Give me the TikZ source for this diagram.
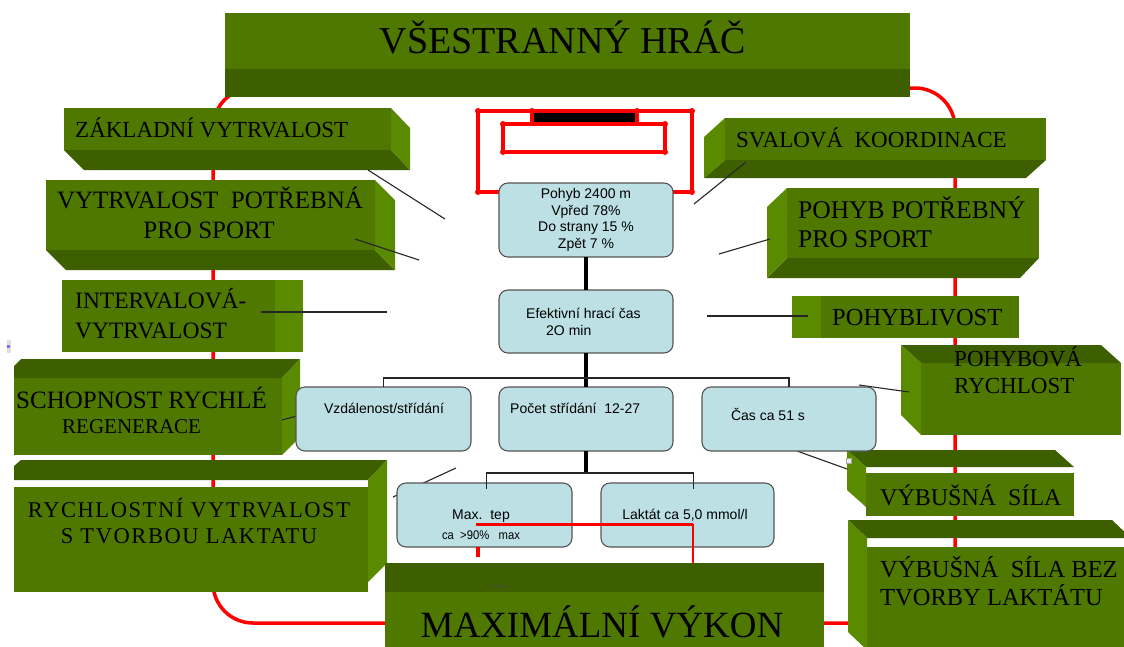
\documentclass[tikz,border=0pt]{standalone}
\usepackage{fontspec}
\setmainfont{Liberation Serif}
\newfontfamily\arialf{Liberation Sans}
\newfontfamily\spacedf[LetterSpace=7]{Liberation Serif}
\usetikzlibrary{calc}
\definecolor{gfront}{RGB}{78,120,0}
\definecolor{gdark}{RGB}{62,95,0}
\definecolor{gside}{RGB}{90,138,0}
\definecolor{bblue}{RGB}{189,224,229}
\definecolor{bborder}{RGB}{85,85,85}
\definecolor{redc}{RGB}{255,0,0}
\newcommand\fs[1]{\fontsize{#1}{#1}\selectfont}
\begin{document}
\begin{tikzpicture}[x=1pt,y=-1pt,
 face/.style={fill=gfront, draw=none, inner sep=0pt, outer sep=0pt, anchor=north west},
 gt/.style={inner sep=0pt, anchor=base west, text=black},
 gtc/.style={inner sep=0pt, anchor=base, text=black},
 bbox/.style={rounded corners=9pt, fill=bblue, draw=bborder, line width=1.1pt, inner sep=0pt, outer sep=0pt, anchor=north west},
 bt/.style={inner sep=0pt, font=\arialf\fs{14}, text=black},
 conn/.style={draw=black!85, line width=1.1pt},
 trunk/.style={draw=black, line width=4pt},
 redl/.style={draw=redc, line width=3.5pt},
]
\useasboundingbox (0,0) rectangle (1124,646);
\clip (0,0) rectangle (1124,646);

% red loop
\draw[redl, rounded corners=40pt] (213,88) rectangle (955,623);

% goal symbol
\fill[black] (532,112) rectangle (637,123);
\draw[redl] (499,192) -- (478,192) -- (478,111) -- (692,111) -- (692,192) -- (673,192);
\draw[redl] (503,124) rectangle (665,152);
\draw[redl] (532,111) -- (532,124);
\draw[redl] (637,111) -- (637,124);
\foreach \p in {(478,111),(478,192),(692,111),(692,192),(532,111),(637,111),(503,124),(503,152),(665,124),(665,152)} \fill[redc] \p circle (3);

% title
\node[face, minimum width=685pt, minimum height=56pt] (title) at (225,13) {};
\fill[gdark] (225,69) rectangle (910,97);
\node[gtc, font=\fs{38}] (titlet) at (563,53) {VŠESTRANNÝ HRÁČ};

% ZAKLADNI
\node[face, minimum width=327pt, minimum height=42pt] (zakl) at (64,108) {};
\fill[gdark] (64,150) -- (391,150) -- (410,170) -- (84,170) -- cycle;
\fill[gside] (391,108) -- (410,128) -- (410,170) -- (391,150) -- cycle;
\node[gt, font=\fs{23}] (zaklt) at (75,137) {ZÁKLADNÍ VYTRVALOST};

% VYTRVALOST POTREBNA
\node[face, minimum width=329pt, minimum height=70pt] (vytr) at (46,180) {};
\fill[gdark] (46,250) -- (375,250) -- (395,270) -- (66,270) -- cycle;
\fill[gside] (375,180) -- (395,200) -- (395,270) -- (375,250) -- cycle;
\node[gtc, font=\fs{25}] (vytrt1) at (210,208) {VYTRVALOST\ \ POTŘEBNÁ};
\node[gtc, font=\fs{25}] (vytrt2) at (209,238) {PRO SPORT};

% INTERVALOVA
\node[face, minimum width=213pt, minimum height=72pt] (interv) at (62,280) {};
\fill[gside] (275,280) rectangle (303,352);
\node[gt, font=\fs{23.5}] (intt1) at (75,308) {INTERVALOVÁ-};
\node[gt, font=\fs{23.5}] (intt2) at (75,338) {VYTRVALOST};

% SCHOPNOST
\node[face, minimum width=268pt, minimum height=77pt] (schop) at (14,378) {};
\fill[gdark] (14,378) -- (14,366) -- (21,359) -- (300,359) -- (282,378) -- cycle;
\fill[gside] (282,378) -- (300,359) -- (300,437) -- (282,455) -- cycle;
\node[gt, font=\fs{25}] (scht1) at (16,408) {SCHOPNOST RYCHLÉ};
\node[gt, font=\fs{21}] (scht2) at (62,433) {REGENERACE};

% RYCHLOSTNI
\fill[gdark] (14,480) -- (14,466) -- (21,460) -- (387,460) -- (368,480) -- cycle;
\node[face, minimum width=354pt, minimum height=105pt] (rych) at (14,487) {};
\fill[gside] (368,480) -- (387,460) -- (387,563) -- (368,582) -- cycle;
\node[gtc, font=\spacedf\fs{22.5}] (rycht1) at (189,517) {RYCHLOSTNÍ VYTRVALOST};
\node[gtc, font=\spacedf\fs{22.5}] (rycht2) at (189,543) {S TVORBOU LAKTATU};

% SVALOVA
\node[face, minimum width=321pt, minimum height=42pt] (sval) at (725,118) {};
\fill[gdark] (725,160) -- (1046,160) -- (1026,178) -- (704,178) -- cycle;
\fill[gside] (725,118) -- (704,137) -- (704,178) -- (725,160) -- cycle;
\node[gt, font=\fs{23}] (svalt) at (736,147) {SVALOVÁ\ \ KOORDINACE};

% POHYB POTREBNY
\node[face, minimum width=252pt, minimum height=70pt] (pohy) at (787,188) {};
\fill[gdark] (787,258) -- (1039,258) -- (1020,278) -- (767,278) -- cycle;
\fill[gside] (787,188) -- (767,207) -- (767,278) -- (787,258) -- cycle;
\node[gt, font=\fs{25.5}] (pohyt1) at (798,218) {POHYB POTŘEBNÝ};
\node[gt, font=\fs{25.5}] (pohyt2) at (798,247) {PRO SPORT};

% POHYBLIVOST
\node[face, minimum width=198pt, minimum height=42pt] (pohl) at (821,296) {};
\fill[gside] (792,296) rectangle (821,338);
\node[gt, font=\fs{24.5}] (pohlt) at (832,325) {POHYBLIVOST};

% POHYBOVA RYCHLOST
\node[face, minimum width=200pt, minimum height=72pt] (pry) at (921,363) {};
\fill[gdark] (901,345) -- (1101,345) -- (1121,363) -- (921,363) -- cycle;
\fill[gside] (901,345) -- (921,363) -- (921,435) -- (901,415) -- cycle;
\node[gt, font=\fs{23}] (pryt1) at (954,366) {POHYBOVÁ};
\node[gt, font=\fs{23}] (pryt2) at (954,393) {RYCHLOST};

% VYBUSNA SILA
\fill[gdark] (847,450) -- (1055,450) -- (1074,467) -- (866,467) -- cycle;
\node[face, minimum width=208pt, minimum height=43pt] (vyb) at (866,473) {};
\fill[gside] (847,450) -- (866,467) -- (866,507) -- (847,490) -- cycle;
\node[gt, font=\fs{24}] (vybt) at (880,505) {VÝBUŠNÁ\ \ SÍLA};

% VYBUSNA SILA BEZ
\fill[gdark] (848,520) -- (1112,520) -- (1131,538) -- (867,538) -- cycle;
\node[face, minimum width=260pt, minimum height=100pt] (vybb) at (867,547) {};
\fill[gside] (848,520) -- (867,538) -- (867,650) -- (848,632) -- cycle;
\node[gt, font=\fs{24.5}] (vybbt1) at (880,577) {VÝBUŠNÁ\ \ SÍLA BEZ};
\node[gt, font=\fs{24.5}] (vybbt2) at (880,605) {TVORBY LAKTÁTU};

% MAXIMALNI VYKON
\node[face, minimum width=439pt, minimum height=60pt] (maxv) at (385,592) {};
\fill[gdark] (385,563) rectangle (824,592);
\node[gtc, font=\fs{37}] (maxvt) at (602,637) {MAXIMÁLNÍ VÝKON};
\node[inner sep=0pt, font=\arialf\fs{4.5}, text=black!70] (tvt) at (498,587) {TVORBY};

% connectors to green boxes
\coordinate (c1a) at (368,170); \coordinate (c1b) at (445,219);
\coordinate (c2a) at (355,239); \coordinate (c2b) at (419,260);
\coordinate (c3a) at (261,312); \coordinate (c3b) at (387,312);
\coordinate (c4a) at (282,420); \coordinate (c4b) at (297,416);
\coordinate (c5a) at (393,497); \coordinate (c5b) at (456,468);
\coordinate (c6a) at (746,162); \coordinate (c6b) at (694,204);
\coordinate (c7a) at (770,239); \coordinate (c7b) at (719,254);
\coordinate (c8a) at (707,316); \coordinate (c8b) at (808,316);
\coordinate (c9a) at (859,385); \coordinate (c9b) at (909,392);
\coordinate (c10a) at (797,451); \coordinate (c10b) at (847,469);
\foreach \a/\b in {c1a/c1b,c2a/c2b,c3a/c3b,c4a/c4b,c5a/c5b,c6a/c6b,c7a/c7b,c8a/c8b,c9a/c9b,c10a/c10b}
  \draw[conn] (\a) -- (\b);
\draw[gray!70, fill=gray!15, line width=0.6pt] (846,458) rectangle (851,463);

% left edge mark
\fill[gray!25] (7,340) rectangle (11,353);
\fill[blue!55] (7,345) rectangle (10,348);

% blue boxes
\node[bbox, minimum width=174pt, minimum height=74pt, align=center, font=\arialf\fontsize{14}{16.5}\selectfont, text=black] (pohyb) at (499,183)
  {Pohyb 2400 m\\Vpřed 78\%\\Do strany 15 \%\\Zpět 7 \%};
\node[bbox, minimum width=174pt, minimum height=63pt] (ef) at (499,290) {};
\node[bt, anchor=base west] (eft1) at (526,318) {Efektivní hrací čas};
\node[bt, anchor=base west] (eft2) at (546,335) {2O min};

\coordinate (br1) at (586,378);
\coordinate (br2) at (586,473);

\node[bbox, minimum width=175pt, minimum height=64pt] (vzd) at (296,387) {};
\node[bbox, minimum width=174pt, minimum height=64pt] (poc) at (499,387) {};
\node[bbox, minimum width=174pt, minimum height=64pt] (cas) at (702,387) {};
\node[bt, anchor=base] (vzdt) at (384,413) {Vzdálenost/střídání};
\node[bt, anchor=base west] (poct) at (510,413) {Počet střídání\ \ 12-27};
\node[bt, anchor=base] (cast) at (768,420) {Čas ca 51 s};

\node[bbox, minimum width=175pt, minimum height=64pt] (maxtep) at (397,483) {};
\node[bbox, minimum width=173pt, minimum height=64pt] (lak) at (601,483) {};
\node[bt, anchor=base] (maxtept1) at (481,519) {Max.\ \ tep};
\node[bt, anchor=base, font=\arialf\fs{12.5}, xscale=0.9] (maxtept2) at (481,539) {ca\ \ >90\%\ \ \ max};
\node[bt, anchor=base] (lakt) at (685,519) {Laktát ca 5,0 mmol/l};

% trunk and brackets
\draw[trunk] (pohyb.south) -- (ef.north);
\draw[trunk] (ef.south) -- (poc.north);
\draw[trunk] (poc.south) -- (br2);
\draw[conn] (vzd.north) |- (br1) -| (cas.north);
\draw[conn] ($(maxtep.north)+(2,6)$) |- (br2) -| ($(lak.north)+(6,6)$);

% red overlay
\coordinate (r1) at (476,524);
\coordinate (r2) at (693,524);
\coordinate (r3) at (693,563);
\draw[redc, line width=3pt] (r1) -- (r2);
\draw[redc, line width=2pt] (r2) -- (r3);
\coordinate (s1) at (478,547); \coordinate (s2) at (478,557);
\draw[redc, line width=4pt] (s1) -- (s2);
\end{tikzpicture}
\end{document}
